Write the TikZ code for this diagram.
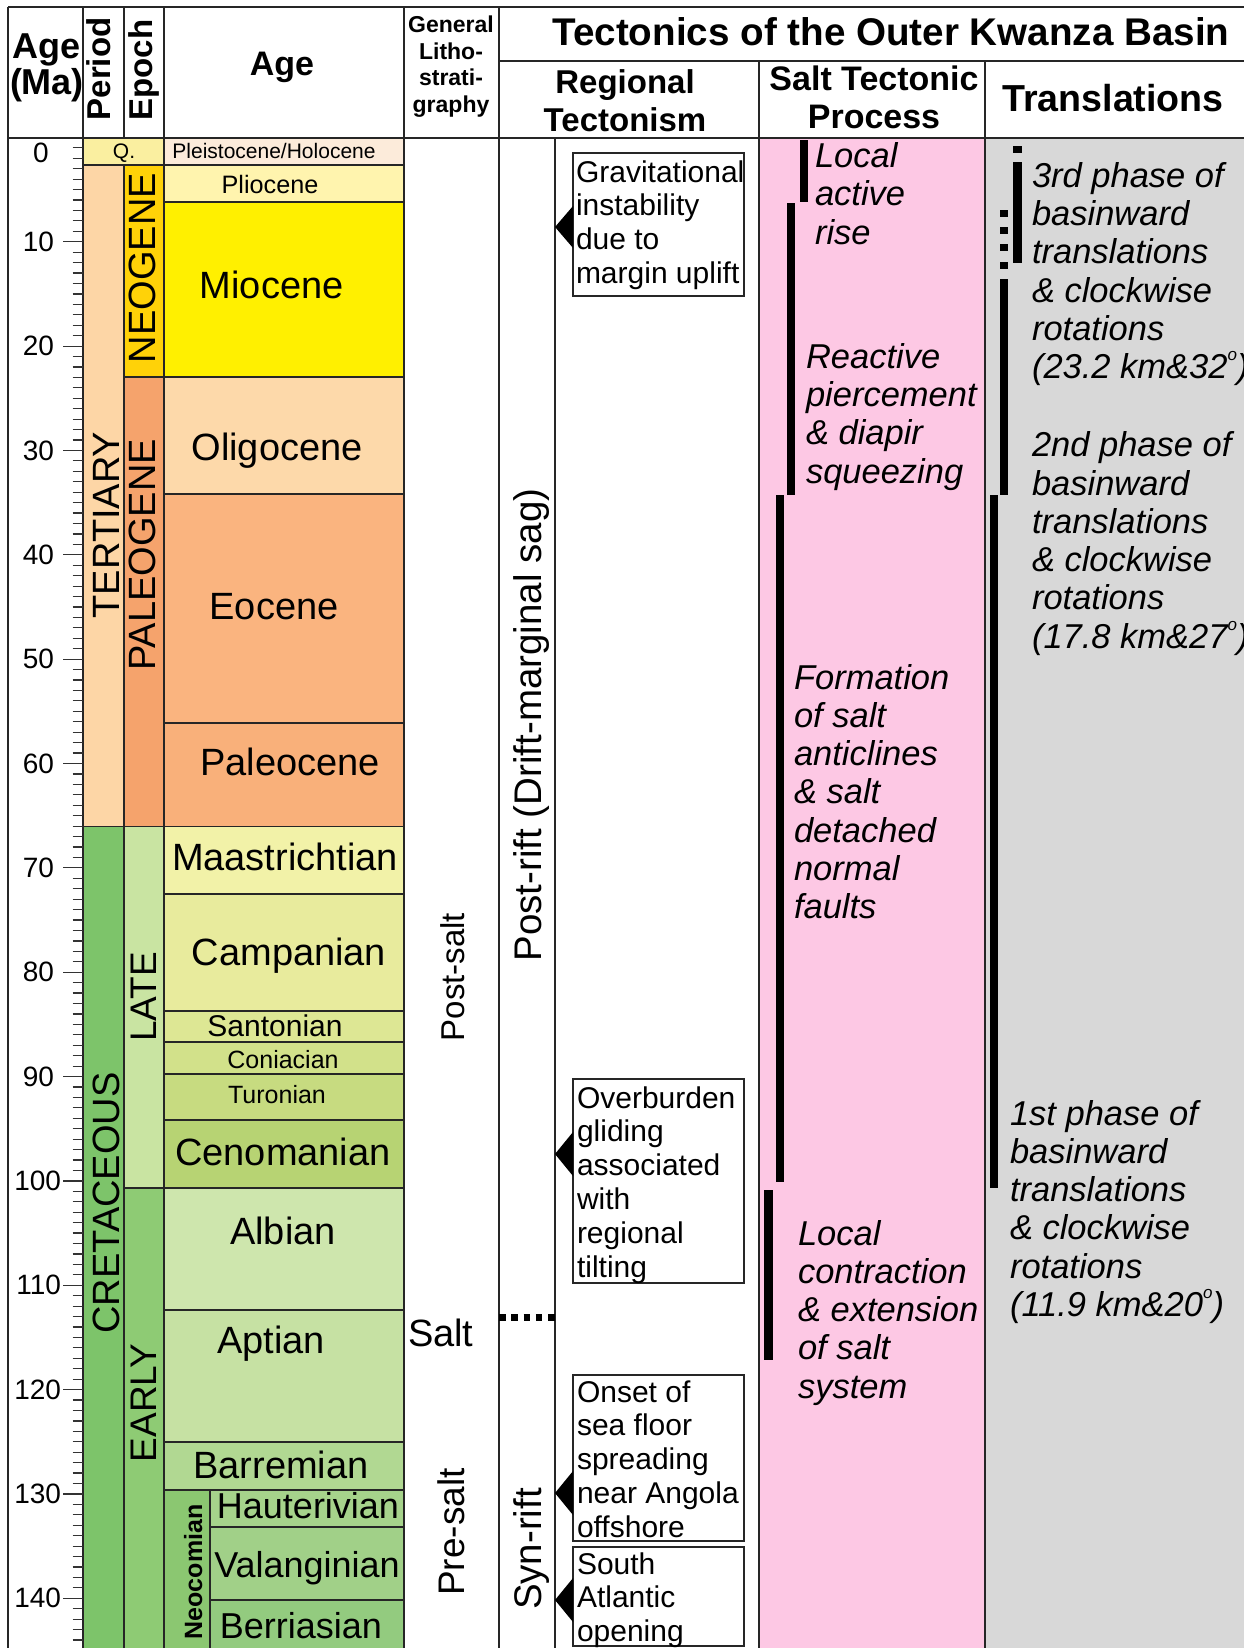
\documentclass[tikz,border=0pt]{standalone}
\usepackage{fontspec}
\setmainfont{Liberation Sans}
\newcommand\fsz[2]{\fontsize{#1}{#2}\selectfont}
\newcommand\degsym{\raisebox{0.52em}{\fsz{17}{17}o}}
\definecolor{cPH}{HTML}{FCEBDA}
\definecolor{cQ}{HTML}{FAEFA0}
\definecolor{cTer}{HTML}{FDD6A6}
\definecolor{cNeo}{HTML}{FFD208}
\definecolor{cPlio}{HTML}{FFF4AE}
\definecolor{cMio}{HTML}{FFF000}
\definecolor{cPal}{HTML}{F5A36C}
\definecolor{cOli}{HTML}{FDD9AA}
\definecolor{cEoc}{HTML}{FAB47F}
\definecolor{cPaleo}{HTML}{F9B07A}
\definecolor{cCre}{HTML}{7DC46A}
\definecolor{cLate}{HTML}{C9E4A2}
\definecolor{cEarly}{HTML}{8ECB74}
\definecolor{cMaa}{HTML}{F2F2A8}
\definecolor{cCam}{HTML}{E8EB9D}
\definecolor{cSan}{HTML}{DDE794}
\definecolor{cCon}{HTML}{D2E18A}
\definecolor{cTur}{HTML}{C7DB80}
\definecolor{cCen}{HTML}{B7D373}
\definecolor{cAlb}{HTML}{CEE6AD}
\definecolor{cApt}{HTML}{C6E1A3}
\definecolor{cBar}{HTML}{B1D892}
\definecolor{cHau}{HTML}{A6D38B}
\definecolor{cVal}{HTML}{A1D088}
\definecolor{cBer}{HTML}{93CB7F}
\definecolor{cNeoc}{HTML}{8BC771}
\definecolor{cPink}{HTML}{FDC8E4}
\definecolor{cGray}{HTML}{D8D8D8}
\begin{document}
\begin{tikzpicture}[x=1pt,y=-1pt,
  grid/.style={draw=black!85,line width=1.4pt},
  cell/.style={draw=black!85,line width=1.3pt},
  tick/.style={draw=black!80,line width=1.2pt},
  lbl/.style={inner sep=0pt,outer sep=0pt},
  agename/.style={lbl,anchor=base,font=\fsz{38}{44}},
  vert/.style={lbl,rotate=90,anchor=base},
  hdr/.style={lbl,anchor=base,align=center},
  ital/.style={lbl,anchor=base west,align=left,font=\itshape\fsz{34.5}{38.3}},
  boxtxt/.style={lbl,anchor=base west,align=left,font=\fsz{30}{33.8}},
  evbox/.style={draw=black!85,line width=1.1pt,fill=white},
  bar/.style={fill=black},
  tri/.style={fill=black}
]
\useasboundingbox (0,0) rectangle (1244,1648);
\clip (0,0) rectangle (1244,1648);
\fill[white] (0,0) rectangle (1244,1648);
% column backgrounds
\fill[cPink] (759,138) rectangle (985,1660);
\fill[cGray] (985,138) rectangle (1244,1660);
% period / epoch
\filldraw[cell,fill=cQ] (83,138) rectangle (164,165);
\filldraw[cell,fill=cTer] (83,165) rectangle (124,826.5);
\filldraw[cell,fill=cCre] (83,826.5) rectangle (124,1660);
\filldraw[cell,fill=cNeo] (124,165) rectangle (164,377);
\filldraw[cell,fill=cPal] (124,377) rectangle (164,826.5);
\filldraw[cell,fill=cLate] (124,826.5) rectangle (164,1188);
\filldraw[cell,fill=cEarly] (124,1188) rectangle (164,1660);
% ages
\filldraw[cell,fill=cPH] (164,138) rectangle (404,165);
\filldraw[cell,fill=cPlio] (164,165) rectangle (404,202);
\filldraw[cell,fill=cMio] (164,202) rectangle (404,377);
\filldraw[cell,fill=cOli] (164,377) rectangle (404,494);
\filldraw[cell,fill=cEoc] (164,494) rectangle (404,723);
\filldraw[cell,fill=cPaleo] (164,723) rectangle (404,826.5);
\filldraw[cell,fill=cMaa] (164,826.5) rectangle (404,894);
\filldraw[cell,fill=cCam] (164,894) rectangle (404,1011);
\filldraw[cell,fill=cSan] (164,1011) rectangle (404,1042);
\filldraw[cell,fill=cCon] (164,1042) rectangle (404,1074);
\filldraw[cell,fill=cTur] (164,1074) rectangle (404,1120);
\filldraw[cell,fill=cCen] (164,1120) rectangle (404,1188);
\filldraw[cell,fill=cAlb] (164,1188) rectangle (404,1310);
\filldraw[cell,fill=cApt] (164,1310) rectangle (404,1442);
\filldraw[cell,fill=cBar] (164,1442) rectangle (404,1490);
\filldraw[cell,fill=cNeoc] (164,1490) rectangle (210,1660);
\filldraw[cell,fill=cHau] (210,1490) rectangle (404,1527);
\filldraw[cell,fill=cVal] (210,1527) rectangle (404,1600);
\filldraw[cell,fill=cBer] (210,1600) rectangle (404,1660);
% frame lines
\draw[grid] (8,7) -- (1244,7);
\draw[grid] (8,7) -- (8,1660);
\draw[grid] (8,138) -- (1244,138);
\draw[grid] (499,61) -- (1244,61);
\draw[grid] (83,7) -- (83,1660);
\draw[grid] (124,7) -- (124,138);
\draw[grid] (164,7) -- (164,1660);
\draw[grid] (404,7) -- (404,1660);
\draw[grid] (499,7) -- (499,1660);
\draw[grid] (555,138) -- (555,1660);
\draw[grid] (759,61) -- (759,1660);
\draw[grid] (985,61) -- (985,1660);
% ticks
\foreach \k in {1,...,144}
  \draw[tick] (72.5,{137.4+10.435*\k}) -- (83,{137.4+10.435*\k});
\foreach \k in {1,...,14}{
  \draw[tick] (63,{137.4+104.35*\k}) -- (83,{137.4+104.35*\k});
  \pgfmathsetmacro\xl{\k<10 ? 54 : 61}
  \node[lbl,anchor=east,font=\fsz{28}{28}] (t\k) at (\xl,{137.4+104.35*\k}) {\k0};
}
\node[lbl,font=\fsz{28}{28}] (t0) at (41,152.7) {0};
% headers (base anchor = baseline of last line)
\node[hdr,font=\bfseries\fsz{36}{36.7}] (hAgeMa) at (47,95) {Age\\(Ma)};
\node[vert,font=\bfseries\fsz{33}{33}] (hPeriod) at (110,69) {Period};
\node[vert,font=\bfseries\fsz{33}{33}] (hEpoch) at (152,70) {Epoch};
\node[hdr,font=\bfseries\fsz{34}{34}] (hAge) at (282,76) {Age};
\node[hdr,font=\bfseries\fsz{23}{26.5}] (hLitho) at (451,112.5) {General\\Litho-\\strati-\\graphy};
\node[hdr,font=\bfseries\fsz{38.6}{38}] (hTitle) at (891,46) {Tectonics of the Outer Kwanza Basin};
\node[hdr,font=\bfseries\fsz{33}{38.4}] (hReg) at (625,131.7) {Regional\\Tectonism};
\node[hdr,font=\bfseries\fsz{34}{38}] (hSalt) at (874,129) {Salt Tectonic\\Process};
\node[hdr,font=\bfseries\fsz{37.6}{38}] (hTrans) at (1113,111.7) {Translations};
% period / epoch labels
\node[lbl,font=\fsz{21}{21}] (lQ) at (124,152.7) {Q.};
\node[vert,font=\fsz{38}{38}] (lTer) at (119,525) {TERTIARY};
\node[vert,font=\fsz{38}{38}] (lCre) at (119,1203) {CRETACEOUS};
\node[vert,font=\fsz{38}{38}] (lNeo) at (155,268) {NEOGENE};
\node[vert,font=\fsz{38}{38}] (lPal) at (155,555) {PALEOGENE};
\node[vert,font=\fsz{37}{37}] (lLate) at (156.5,997) {LATE};
\node[vert,font=\fsz{37}{37}] (lEarly) at (156.5,1403) {EARLY};
\node[vert,font=\bfseries\fsz{25}{25}] (lNeoc) at (202,1572) {Neocomian};
% age labels
\node[agename,font=\fsz{21}{21}] (aPH) at (274,158.3) {Pleistocene/Holocene};
\node[agename,font=\fsz{25.2}{25}] (aPlio) at (270,193.3) {Pliocene};
\node[agename] (aMio) at (271.7,298) {Miocene};
\node[agename] (aOli) at (277,460) {Oligocene};
\node[agename] (aEoc) at (274,619) {Eocene};
\node[agename] (aPaleo) at (290,775) {Paleocene};
\node[agename] (aMaa) at (285,870.7) {Maastrichtian};
\node[agename] (aCam) at (289,965) {Campanian};
\node[agename,font=\fsz{30}{30}] (aSan) at (275,1036.7) {Santonian};
\node[agename,font=\fsz{25}{25}] (aCon) at (283,1068.3) {Coniacian};
\node[agename,font=\fsz{25}{25}] (aTur) at (277,1103.3) {Turonian};
\node[agename] (aCen) at (283,1165) {Cenomanian};
\node[agename] (aAlb) at (283,1244) {Albian};
\node[agename] (aApt) at (271,1353) {Aptian};
\node[agename] (aBar) at (281,1478) {Barremian};
\node[agename,font=\fsz{36}{36}] (aHau) at (308,1518) {Hauterivian};
\node[agename,font=\fsz{36}{36}] (aVal) at (307,1577) {Valanginian};
\node[agename,font=\fsz{36}{36}] (aBer) at (301,1638) {Berriasian};
% lithostratigraphy
\node[vert,font=\fsz{33}{33}] (lPost) at (464,977) {Post-salt};
\node[lbl,anchor=base west,font=\fsz{38}{38}] (lSalt) at (408,1346) {Salt};
\node[vert,font=\fsz{37}{37}] (lPre) at (464,1532) {Pre-salt};
% regional tectonism
\node[vert,font=\fsz{38.5}{38.5}] (rPost) at (541,725) {Post-rift (Drift-marginal sag)};
\node[vert,font=\fsz{38.5}{38.5}] (rSyn) at (541,1549) {Syn-rift};
\coordinate (dA) at (499,1317);
\coordinate (dB) at (555,1317);
\draw[line width=7pt,dash pattern=on 6.5pt off 5.8pt] (dA) -- (dB);
% event boxes
\draw[evbox] (573,153) rectangle (744,296);
\draw[evbox] (573,1079) rectangle (744,1283);
\draw[evbox] (573,1375) rectangle (744,1541);
\draw[evbox] (573,1547) rectangle (744,1646);
\fill[tri] (555,227) -- (573,206) -- (573,248) -- cycle;
\fill[tri] (555,1154) -- (573,1132) -- (573,1176) -- cycle;
\fill[tri] (555,1493) -- (573,1471) -- (573,1515) -- cycle;
\fill[tri] (555,1600) -- (573,1578) -- (573,1622) -- cycle;
\node[boxtxt] (e1) at (576,283.4) {Gravitational\\instability\\due to\\margin uplift};
\node[boxtxt] (e2) at (577,1277) {Overburden\\gliding\\associated\\with\\regional\\tilting};
\node[boxtxt] (e3) at (577,1537.2) {Onset of\\sea floor\\spreading\\near Angola\\offshore};
\node[boxtxt] (e4) at (577,1641.6) {South\\Atlantic\\opening};
% salt tectonic bars
\fill[bar] (800,140) rectangle (808,202);
\fill[bar] (787,203) rectangle (795,495);
\fill[bar] (775.5,495) rectangle (784,1182);
\fill[bar] (763.5,1190) rectangle (773,1360);
\node[ital] (s1) at (815,244.1) {Local\\active\\rise};
\node[ital] (s2) at (806,483.2) {Reactive\\piercement\\\& diapir\\squeezing};
\node[ital] (s3) at (794,918.8) {Formation\\of salt\\anticlines\\\& salt\\detached\\normal\\faults};
\node[ital] (s4) at (798,1398.2) {Local\\contraction\\\& extension\\of salt\\system};
% translation bars
\fill[bar] (1013,146) rectangle (1021.5,153.5);
\fill[bar] (1013,162) rectangle (1021.5,263);
\fill[bar] (1000,210) rectangle (1008,217);
\fill[bar] (1000,227) rectangle (1008,233.5);
\fill[bar] (1000,243.5) rectangle (1008,250.5);
\fill[bar] (1000,262) rectangle (1008,269);
\fill[bar] (1000,279) rectangle (1008,495);
\fill[bar] (990,495) rectangle (998,1188);
\node[ital] (p3) at (1032,378.8) {3rd phase of\\basinward\\translations\\\& clockwise\\rotations\\(23.2 km\&32\degsym)};
\node[ital] (p2) at (1032,648.2) {2nd phase of\\basinward\\translations\\\& clockwise\\rotations\\(17.8 km\&27\degsym)};
\node[ital] (p1) at (1010,1316.5) {1st phase of\\basinward\\translations\\\& clockwise\\rotations\\(11.9 km\&20\degsym)};
\end{tikzpicture}
\end{document}
